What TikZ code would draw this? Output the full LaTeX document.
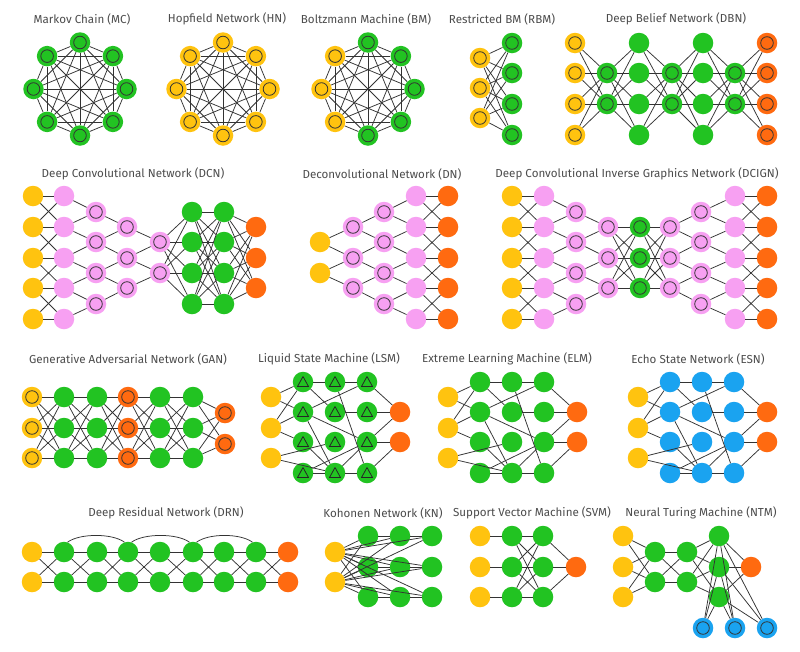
\documentclass[tikz,border=0pt]{standalone}
\usepackage{fontspec}
\setmainfont{Fira Sans}
\usetikzlibrary{calc}

\definecolor{inyel}{HTML}{FFC30F}
\definecolor{hidgrn}{HTML}{22C322}
\definecolor{outorg}{HTML}{FF6A10}
\definecolor{convpnk}{HTML}{F7A0F2}
\definecolor{echblu}{HTML}{1AA3F0}
\definecolor{wiregray}{HTML}{333333}

\tikzset{
  cell/.style={circle,minimum size=20.5pt,inner sep=0pt},
  inp/.style={cell,fill=inyel},
  hid/.style={cell,fill=hidgrn},
  outp/.style={cell,fill=outorg},
  conv/.style={cell,fill=convpnk},
  echo/.style={cell,fill=echblu},
  ring/.style={path picture={\draw[black!80,line width=0.8pt] (path picture bounding box.center) circle (6.3pt);}},
  spike/.style={path picture={\draw[black!85,line width=0.8pt,line join=round]
      ($(path picture bounding box.center)+(0pt,5.5pt)$) -- ++(5.5pt,-10pt) -- ++(-11pt,0pt) -- cycle;}},
  inpr/.style={inp,ring}, hidr/.style={hid,ring}, outr/.style={outp,ring},
  convr/.style={conv,ring}, echor/.style={echo,ring}, hidt/.style={hid,spike},
  wire/.style={wiregray,line width=0.75pt},
  title/.style={text=black!70,font=\fontsize{11.6}{14}\selectfont}
}

% a column of cells: name prefix, style, x, list of y
\newcommand\nodecol[4]{\foreach \yy [count=\k] in {#4} {\node[#2] (#1\k) at (#3,\yy) {};}}
% every cell of one column to every cell of the next
\newcommand\fullconn[4]{\foreach \p in {1,...,#2} {\foreach \q in {1,...,#4} {\path[wire] (#1\p) edge (#3\q);}}}
% two neighbours of the big column onto one cell of the small one
\newcommand\poolconn[3]{\foreach \k in {1,...,#3} {\pgfmathtruncatemacro\kk{\k+1}\path[wire] (#1\k) edge (#2\k) (#1\kk) edge (#2\k);}}
% same size columns, straight and crossed to the neighbours
\newcommand\bandconn[3]{\foreach \k in {1,...,#3} {\path[wire] (#1\k) edge (#2\k);
  \ifnum\k<#3 \pgfmathtruncatemacro\kk{\k+1}\path[wire] (#1\k) edge (#2\kk) (#1\kk) edge (#2\k);\fi}}
% eight cells on a circle, all joined
\newcommand\cliquenet[4]{%
  \foreach \s [count=\k] in {#4} {\pgfmathsetmacro\ang{90-45*(\k-1)}\node[\s] (#1\k) at ($(#2,#3)+(\ang:46.5pt)$) {};}
  \foreach \p in {1,...,7} {\pgfmathtruncatemacro\pp{\p+1}\foreach \q in {\pp,...,8} {\path[wire] (#1\p) edge (#1\q);}}}
% inputs, three sparse hidden columns, two outputs
\newcommand\reservoir[3]{%
  \nodecol{#1I}{inp}{#2}{397,428,458}
  \nodecol{#1A}{#3}{#2+32}{382,412,442,473}
  \nodecol{#1B}{#3}{#2+64}{382,412,442,473}
  \nodecol{#1C}{#3}{#2+96}{382,412,442,473}
  \nodecol{#1O}{outp}{#2+129}{412,442}
  \foreach \u/\v in {I1/A1,I1/A2,I2/A1,I2/A2,I2/A3,I3/B3,I3/B4,A1/B1,B1/C1,A1/B2,A2/C1,A2/C3,A2/B4,
      B2/C2,B1/C4,A3/B4,A4/B4,B4/C4,A4/C3,B4/C3,C1/O1,C2/O1,C3/O1,C3/O2,C4/O2}
    {\path[wire] (#1\u) edge (#1\v);}}

\begin{document}
\begin{tikzpicture}[x=1pt,y=-1pt]
\path[use as bounding box,fill=white] (0,0) rectangle (800,651);

% titles
\node[title] (mcT) at (82,19) {Markov Chain (MC)};
\node[title] (hnT) at (227,19) {Hopfield Network (HN)};
\node[title] (bmT) at (366,19) {Boltzmann Machine (BM)};
\node[title] (rbmT) at (502,19) {Restricted BM (RBM)};
\node[title] (dbnT) at (676,19) {Deep Belief Network (DBN)};
\node[title] (dcnT) at (133,174) {Deep Convolutional Network (DCN)};
\node[title] (dnT) at (382,174) {Deconvolutional Network (DN)};
\node[title] (dcignT) at (637,174) {Deep Convolutional Inverse Graphics Network (DCIGN)};
\node[title] (ganT) at (128,359) {Generative Adversarial Network (GAN)};
\node[title] (lsmT) at (329,359) {Liquid State Machine (LSM)};
\node[title] (elmT) at (507,359) {Extreme Learning Machine (ELM)};
\node[title] (esnT) at (698,359) {Echo State Network (ESN)};
\node[title] (drnT) at (166,513) {Deep Residual Network (DRN)};
\node[title] (knT) at (383,513) {Kohonen Network (KN)};
\node[title] (svmT) at (532,513) {Support Vector Machine (SVM)};
\node[title] (ntmT) at (701,513) {Neural Turing Machine (NTM)};

% MC, HN, BM
\cliquenet{mc}{80}{89}{hidr,hidr,hidr,hidr,hidr,hidr,hidr,hidr}
\cliquenet{hn}{223}{89}{inpr,inpr,inpr,inpr,inpr,inpr,inpr,inpr}
\cliquenet{bm}{368}{89}{hidr,hidr,hidr,hidr,hidr,inpr,inpr,inpr}

% RBM
\nodecol{rbmI}{inpr}{480}{58,88,118}
\nodecol{rbmH}{hidr}{512}{43,73,104,135}
\fullconn{rbmI}{3}{rbmH}{4}

% DBN
\nodecol{dbnA}{inpr}{575}{43,73,104,135}
\nodecol{dbnB}{hidr}{607}{73,104}
\nodecol{dbnC}{hid}{639}{43,73,104,135}
\nodecol{dbnD}{hidr}{672}{73,104}
\nodecol{dbnE}{hid}{703}{43,73,104,135}
\nodecol{dbnF}{hidr}{735}{73,104}
\nodecol{dbnG}{outr}{767}{43,73,104,135}
\fullconn{dbnA}{4}{dbnB}{2} \fullconn{dbnB}{2}{dbnC}{4}
\fullconn{dbnC}{4}{dbnD}{2} \fullconn{dbnD}{2}{dbnE}{4}
\fullconn{dbnE}{4}{dbnF}{2} \fullconn{dbnF}{2}{dbnG}{4}

% DCN
\nodecol{dcnA}{inp}{33}{196,227,258,288,319}
\nodecol{dcnB}{conv}{64}{196,227,258,288,319}
\nodecol{dcnC}{convr}{96}{212,242,273,304}
\nodecol{dcnD}{convr}{127}{227,258,288}
\nodecol{dcnE}{convr}{160}{242,273}
\nodecol{dcnF}{hid}{192}{212,242,273,304}
\nodecol{dcnG}{hid}{224}{212,242,273,304}
\nodecol{dcnH}{outp}{256}{227,258,288}
\bandconn{dcnA}{dcnB}{5}
\poolconn{dcnB}{dcnC}{4} \poolconn{dcnC}{dcnD}{3} \poolconn{dcnD}{dcnE}{2}
\fullconn{dcnE}{2}{dcnF}{4} \fullconn{dcnF}{4}{dcnG}{4} \fullconn{dcnG}{4}{dcnH}{3}

% DN
\nodecol{dnA}{inp}{320}{242,273}
\nodecol{dnB}{convr}{353}{227,258,288}
\nodecol{dnC}{convr}{384}{212,242,273,304}
\nodecol{dnD}{conv}{416}{196,227,258,288,319}
\nodecol{dnE}{outp}{448}{196,227,258,288,319}
\poolconn{dnB}{dnA}{2} \poolconn{dnC}{dnB}{3} \poolconn{dnD}{dnC}{4}
\bandconn{dnD}{dnE}{5}

% DCIGN
\nodecol{dciA}{inp}{512}{196,227,258,288,319}
\nodecol{dciB}{conv}{544}{196,227,258,288,319}
\nodecol{dciC}{convr}{576}{212,242,273,304}
\nodecol{dciD}{convr}{608}{227,258,288}
\nodecol{dciE}{hidr}{640}{227,258,288}
\nodecol{dciF}{convr}{670}{227,258,288}
\nodecol{dciG}{convr}{701}{212,242,273,304}
\nodecol{dciH}{conv}{735}{196,227,258,288,319}
\nodecol{dciI}{outp}{767}{196,227,258,288,319}
\bandconn{dciA}{dciB}{5}
\poolconn{dciB}{dciC}{4} \poolconn{dciC}{dciD}{3}
\fullconn{dciD}{3}{dciE}{3} \fullconn{dciE}{3}{dciF}{3}
\poolconn{dciG}{dciF}{3} \poolconn{dciH}{dciG}{4}
\bandconn{dciH}{dciI}{5}

% GAN
\foreach \x/\c/\s in {32/A/inpr,64/B/hid,97/C/hid,128/D/outr,160/E/hid,193/F/hid}
  {\nodecol{gan\c}{\s}{\x}{397,428,458}}
\nodecol{ganG}{outr}{225}{413,444}
\foreach \c/\d in {A/B,B/C,C/D,D/E,E/F} {\fullconn{gan\c}{3}{gan\d}{3}}
\fullconn{ganF}{3}{ganG}{2}

% LSM, ELM, ESN
\reservoir{lsm}{271}{hidt}
\reservoir{elm}{448}{hid}
\reservoir{esn}{638}{echo}

% DRN
\foreach \x/\c/\s in {32/A/inp,64/B/hid,97/C/hid,128/D/hid,160/E/hid,193/F/hid,224/G/hid,256/H/hid,288/I/outp}
  {\nodecol{drn\c}{\s}{\x}{552,582}}
\foreach \c/\d in {A/B,B/C,C/D,D/E,E/F,F/G,G/H,H/I} {\fullconn{drn\c}{2}{drn\d}{2}}
\foreach \c/\d in {B/D,D/F,F/H}
  {\draw[wire] (drn\c1.70) .. controls +(12pt,9pt) and +(-12pt,9pt) .. (drn\d1.110);}

% KN
\nodecol{knI}{inp}{335}{552,582}
\nodecol{knA}{hid}{368}{536,567,597}
\nodecol{knB}{hid}{400}{536,567,597}
\nodecol{knC}{hid}{432}{536,567,597}
\fullconn{knI}{2}{knA}{3} \fullconn{knI}{2}{knB}{3} \fullconn{knI}{2}{knC}{3}
\foreach \k in {1,2,3} {\path[wire] (knA\k) edge (knB\k) (knB\k) edge (knC\k);}

% SVM
\nodecol{svmI}{inp}{480}{536,567,597}
\nodecol{svmA}{hid}{512}{536,567,597}
\nodecol{svmB}{hid}{543}{536,567,597}
\node[outp] (svmO1) at (576,567) {};
\foreach \k in {1,2,3} {\path[wire] (svmI\k) edge (svmA\k);}
\fullconn{svmA}{3}{svmB}{3} \fullconn{svmB}{3}{svmO}{1}

% NTM
\nodecol{ntmI}{inp}{623}{536,567,597}
\nodecol{ntmA}{hid}{655}{552,582}
\nodecol{ntmB}{hid}{687}{552,582}
\nodecol{ntmC}{hid}{719}{536,567,597}
\node[outp] (ntmO1) at (751,567) {};
\foreach \x [count=\k] in {703,735,767} {\node[echor] (ntmM\k) at (\x,628) {};}
\fullconn{ntmI}{3}{ntmA}{2} \fullconn{ntmA}{2}{ntmB}{2} \fullconn{ntmB}{2}{ntmC}{3}
\fullconn{ntmC}{3}{ntmO}{1} \fullconn{ntmC}{3}{ntmM}{3}
\end{tikzpicture}
\end{document}
